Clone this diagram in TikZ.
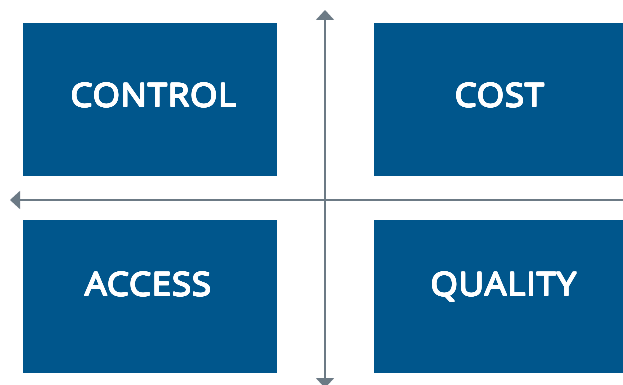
\documentclass[tikz,border=0pt]{standalone}
\usepackage{fontspec}
\setmainfont{Open Sans}
\newfontfamily\labelfont{Open Sans}[FakeStretch=1.08,LetterSpace=2]
\usepackage{contour}
\contourlength{0.45pt}
\contournumber{24}
\usetikzlibrary{arrows.meta}
\definecolor{boxblue}{RGB}{0,86,140}
\definecolor{axisgray}{RGB}{108,122,133}
\begin{document}
\begin{tikzpicture}[x=1pt,y=-1pt,
  quad/.style={fill=boxblue,draw=none,minimum width=254pt,minimum height=153pt,anchor=north west,inner sep=0pt},
  lbl/.style={text=white,anchor=base,inner sep=0pt,font=\fontsize{32.5}{36}\labelfont},
  axis/.style={draw=axisgray,line width=1.6pt,-{Triangle[width=18pt,length=10pt]}}]
\useasboundingbox (0,0) rectangle (623,385);
\node[quad] (ctl) at (23,23) {};
\node[quad,minimum width=249pt] (cost) at (374,23) {};
\node[quad] (acc) at (23,220) {};
\node[quad,minimum width=249pt] (qual) at (374,220) {};
\node[lbl] (ctlt) at (153.5,107) {\contour{white}{CONTROL}};
\node[lbl] (costt) at (499.5,107) {\contour{white}{COST}};
\node[lbl] (acct) at (148,296) {\contour{white}{ACCESS}};
\node[lbl] (qualt) at (503.5,296) {\contour{white}{QUALITY}};
\coordinate (vc) at (325,200);
\coordinate (vtop) at (325,10);
\coordinate (vbot) at (325,388);
\coordinate (hl) at (10,200);
\coordinate (hr) at (623,200);
\draw[axis] (vc) -- (vtop);
\draw[axis] (vc) -- (vbot);
\draw[axis] (hr) -- (hl);
\end{tikzpicture}
\end{document}
